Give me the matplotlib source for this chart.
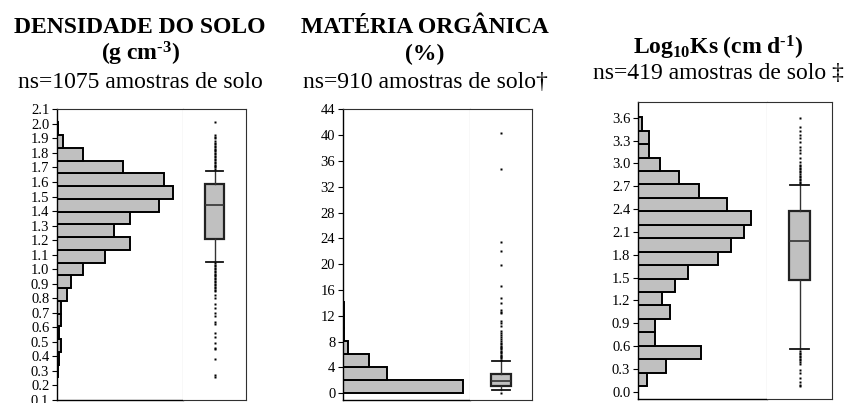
import numpy as np
import matplotlib.pyplot as plt

plt.rcParams['font.family'] = ['Liberation Serif', 'DejaVu Serif']
plt.rcParams['mathtext.fontset'] = 'custom'
plt.rcParams['mathtext.rm'] = 'Liberation Serif'
plt.rcParams['mathtext.bf'] = 'Liberation Serif:bold'
plt.rcParams['mathtext.it'] = 'Liberation Serif:italic'

# densidade do solo (g cm-3): 20 classes entre minimo e maximo, contagens de baixo para cima
bd_range = (0.256, 2.01)
bd_counts = [1, 3, 6, 3, 6, 6, 15, 20, 38, 70, 106, 82, 106, 148, 167, 154, 95, 37, 8, 1]
bd_box = dict(whislo=1.048, q1=1.209, med=1.44, q3=1.589, whishi=1.674)
bd_fliers = [1.69, 1.70, 1.71, 1.72, 1.73, 1.74, 1.75, 1.76, 1.77, 1.78, 1.79, 1.80,
             1.81, 1.82, 1.83, 1.84, 1.85, 1.86, 1.87, 1.88, 1.90, 1.91, 1.92, 2.01,
             1.04, 1.03, 1.02, 1.01, 1.00, 0.99, 0.98, 0.97, 0.96, 0.95, 0.94, 0.93,
             0.92, 0.91, 0.90, 0.89, 0.88, 0.87, 0.86, 0.85, 0.82, 0.80, 0.76, 0.73,
             0.70, 0.68, 0.64, 0.62, 0.56, 0.53, 0.49, 0.46, 0.45, 0.38, 0.27, 0.26]
bd_ticks = [0.1, 0.2, 0.3, 0.4, 0.5, 0.6, 0.7, 0.8, 0.9, 1.0, 1.1,
            1.2, 1.3, 1.4, 1.5, 1.6, 1.7, 1.8, 1.9, 2.0, 2.1]

# materia organica (%)
mo_range = (0.1, 40.3)
mo_counts = [547, 201, 119, 23, 5, 3, 4, 1, 1, 1, 1, 1, 0, 0, 0, 0, 0, 1, 0, 1]
mo_box = dict(whislo=0.45, q1=1.13, med=1.96, q3=2.94, whishi=5.06)
mo_fliers = [0.1, 5.2, 5.4, 5.6, 5.8, 6.0, 6.2, 6.4, 6.6, 6.8, 7.0, 7.2, 7.4, 7.6,
             7.8, 8.1, 8.4, 8.7, 9.0, 9.3, 9.6, 10.4, 10.85, 11.2, 12.4, 12.65, 12.9,
             14.05, 14.8, 16.6, 19.8, 22.1, 23.4, 34.7, 40.3]
mo_ticks = [0, 4, 8, 12, 16, 20, 24, 28, 32, 36, 40, 44]

# log10 Ks (cm d-1)
ks_range = (0.075, 3.605)
ks_counts = [4, 13, 29, 8, 8, 15, 11, 17, 23, 37, 43, 49, 52, 41, 28, 19, 10, 5, 5, 2]
ks_box = dict(whislo=0.557, q1=1.468, med=1.98, q3=2.374, whishi=2.716)
ks_fliers = [2.74, 2.76, 2.78, 2.80, 2.82, 2.84, 2.86, 2.88, 2.90, 2.92, 2.94, 2.96,
             2.98, 3.02, 3.07, 3.13, 3.18, 3.21, 3.28, 3.33, 3.37, 3.42, 3.48, 3.59,
             0.53, 0.51, 0.49, 0.47, 0.45, 0.43, 0.41, 0.39, 0.37, 0.285, 0.24, 0.18,
             0.13, 0.09, 0.075]
ks_ticks = [0.0, 0.3, 0.6, 0.9, 1.2, 1.5, 1.8, 2.1, 2.4, 2.7, 3.0, 3.3, 3.6]

W, H = 846, 403
fig = plt.figure(figsize=(W / 100, H / 100), dpi=100)

FILL = '#c0c0c0'
FRAME = '#303030'
DIVIDER = '#808080'


def pix_axes(left, top, right, bottom):
    return fig.add_axes([left / W, 1 - bottom / H, (right - left) / W, (bottom - top) / H])


def panel(xs, top, bottom, rng, counts, xmax, stats, fliers, ticks, ylim, fmt):
    ax = pix_axes(xs[0], top, xs[1], bottom)
    axb = pix_axes(xs[1], top, xs[2], bottom)

    edges = np.linspace(rng[0], rng[1], len(counts) + 1)
    ax.barh(edges[:-1], counts, height=np.diff(edges), align='edge',
            color=FILL, edgecolor='black', linewidth=1.4)
    ax.set_xlim(0, xmax)
    ax.set_ylim(*ylim)
    ax.set_yticks(ticks)
    ax.set_yticklabels([fmt.format(t) for t in ticks])
    ax.set_xticks([])
    ax.tick_params(axis='y', direction='out', length=3.5, width=0.8,
                   labelsize=10.5, pad=2)
    for s in ['left', 'bottom']:
        ax.spines[s].set_color('black')
        ax.spines[s].set_linewidth(1.0)
    ax.spines['top'].set_color(FRAME)
    ax.spines['right'].set_color(DIVIDER)

    st = dict(stats)
    st['fliers'] = fliers
    axb.bxp([st], positions=[0.5], widths=0.31, capwidths=0.28,
            patch_artist=True,
            boxprops=dict(facecolor=FILL, edgecolor='#222222', linewidth=1.6),
            medianprops=dict(color='#333333', linewidth=1.2),
            whiskerprops=dict(color='#333333', linewidth=1.0),
            capprops=dict(color='#111111', linewidth=1.3),
            flierprops=dict(marker='s', markersize=1.6, markerfacecolor='black',
                            markeredgecolor='none', linestyle='none'))
    axb.set_xlim(0, 1)
    axb.set_ylim(*ylim)
    axb.set_xticks([])
    axb.set_yticks([])
    axb.spines['left'].set_visible(False)
    for s in ['top', 'right', 'bottom']:
        axb.spines[s].set_color(FRAME)
    return ax, axb


panel((57, 183, 246), 109.3, 400, bd_range, bd_counts, 182, bd_box, bd_fliers,
      bd_ticks, (0.1, 2.1), '{:.1f}')
panel((343, 470, 532), 109.3, 400, mo_range, mo_counts, 579, mo_box, mo_fliers,
      mo_ticks, (-1.04, 44), '{:d}')
panel((638, 767, 832), 101.7, 399.3, ks_range, ks_counts, 59.6, ks_box, ks_fliers,
      ks_ticks, (-0.1, 3.81), '{:.1f}')


def label(x, y, s, bold=False):
    fig.text(x / W, 1 - y / H, s, ha='center', va='baseline', fontsize=17,
             fontweight='bold' if bold else 'normal')


label(140, 33, 'DENSIDADE DO SOLO', bold=True)
label(140, 60, r'$\mathbf{(g\ cm^{‐3})}$')
label(140, 88, 'ns=1075 amostras de solo')

label(425, 33, 'MATÉRIA ORGÂNICA', bold=True)
label(425, 60, '(%)', bold=True)
label(425, 88, 'ns=910 amostras de solo†')

label(718, 55, r'$\mathbf{Log_{10}Ks\ (cm\ d^{‐1})}$')
label(718, 79, 'ns=419 amostras de solo ‡')

fig.savefig('out.png', dpi=100)
